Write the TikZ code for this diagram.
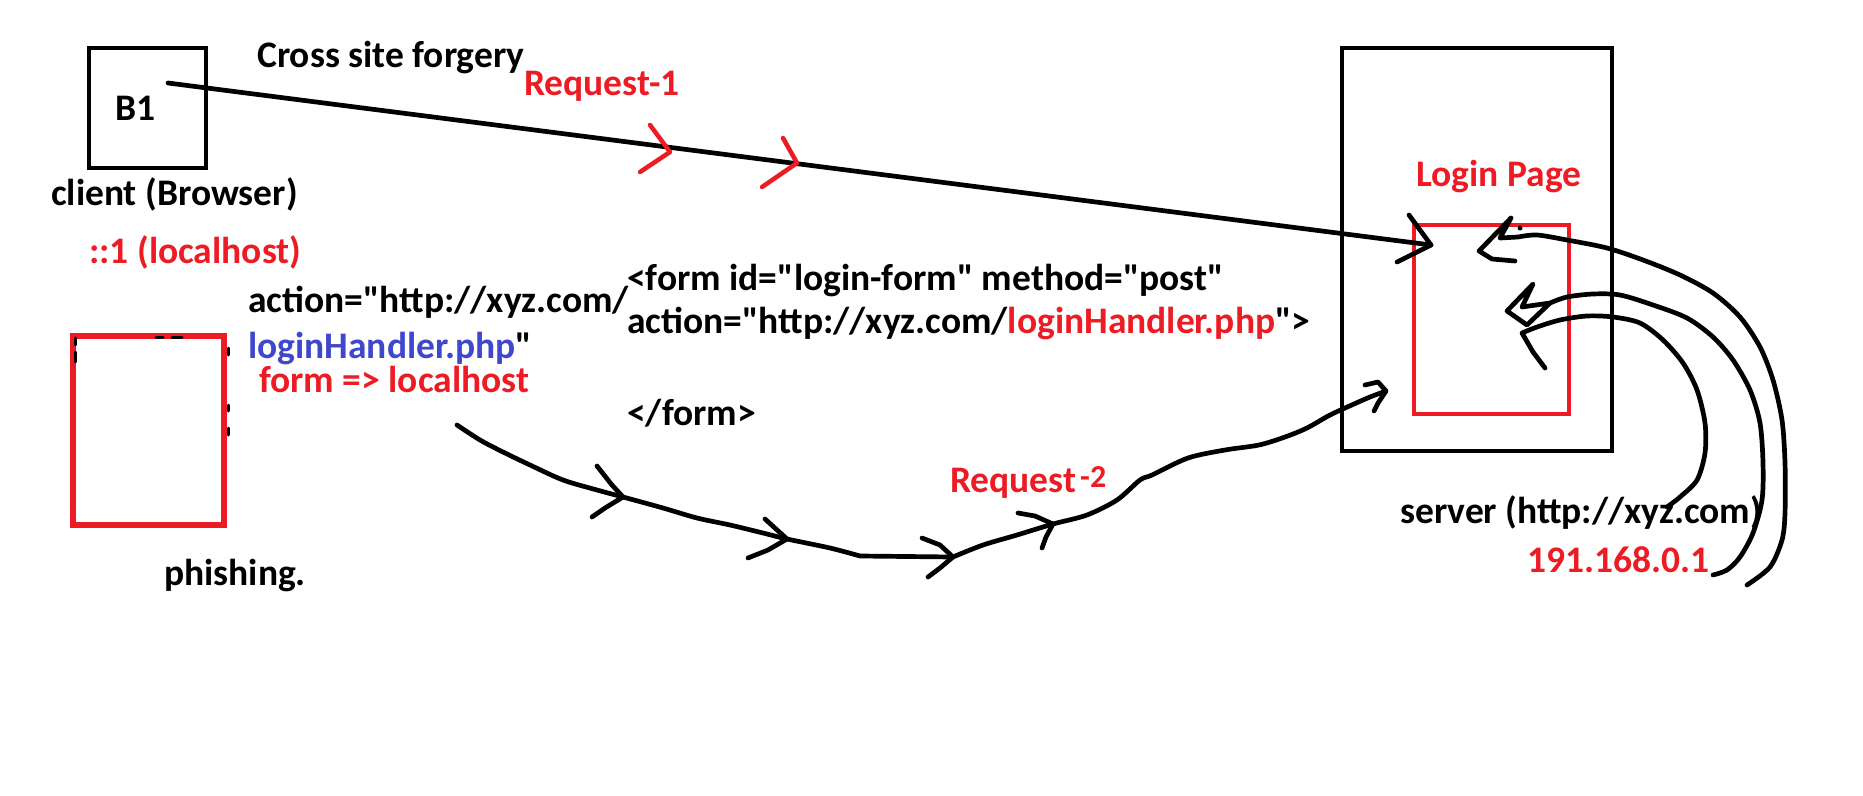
\documentclass[tikz,border=0pt]{standalone}
\usepackage{fontspec}
\setmainfont{Carlito}[Ligatures=TeXOff]
\definecolor{pred}{RGB}{237,28,36}
\definecolor{pblue}{RGB}{63,72,204}
\begin{document}
\begin{tikzpicture}[x=1pt,y=-1pt, line cap=round, line join=round,
  txt/.style={anchor=base west, inner sep=0pt, font=\bfseries\fontsize{37.5}{45}\selectfont},
  ink/.style={line width=4.7pt, draw=black},
  redink/.style={line width=4.5pt, draw=pred},
  box/.style={draw, inner sep=0pt, line cap=butt, line join=miter}]
\useasboundingbox (0,0) rectangle (1863,795);
\fill[white] (0,0) rectangle (1863,795);

% boxes
\node[box, line width=4.7pt, minimum width=117pt, minimum height=120pt] (b1box) at (147.5,108) {};
\node[box, draw=pred, line width=6pt, minimum width=151pt, minimum height=189pt] (phish) at (148.5,430.5) {};
\node[box, line width=4.7pt, minimum width=270pt, minimum height=403pt] (server) at (1477,249.5) {};
\node[box, draw=pred, line width=4.5pt, minimum width=155pt, minimum height=189pt] (login) at (1491.5,319.5) {};

% black remnants around phishing box
\draw[line width=3pt] (75,338)--(75,345) (75,352)--(75,362)
  (156,337)--(163,337) (172,337)--(182,337)
  (228,348)--(228,355) (228,405)--(228,411) (228,428)--(228,435);

% texts
\node[txt] (tB1) at (115,120) {B1};
\node[txt] (tcsf) at (257,67) {Cross site forgery};
\node[txt,text=pred] (treq1) at (524,95) {Request-1};
\node[txt] (tclient) at (51,205) {client (Browser)};
\node[txt,text=pred] (tlocal) at (89,263) {::1 (localhost)};
\node[txt] (tact1) at (248,312) {action="http://xyz.com/};
\node[txt] (tlh) at (248,358) {\textcolor{pblue}{loginHandler.php}"};
\node[txt,text=pred] (tfl) at (259,392) {form => localhost};
\node[txt] (tphish) at (164,585) {phishing.};
\node[txt] (tform1) at (627,290) {<form id="login-form" method="post"};
\node[txt] (tform2) at (627,333) {action="http://xyz.com/\textcolor{pred}{loginHandler.php}">};
\node[txt] (tform3) at (627,425) {</form>};
\node[txt,text=pred] (tlogin) at (1416,186) {Login Page};
\node[txt] (tserver) at (1400,523) {server (http://xyz.com)};
\node[txt,text=pred] (tipaddr) at (1527,572) {191.168.0.1};
\node[txt,text=pred] (treq2) at (950,492) {Request};
\node[txt,text=pred,font=\bfseries\fontsize{32}{38}\selectfont] (treq2b) at (1080,487) {-2};

% request 1 line
\coordinate (l1s) at (168,83);
\coordinate (l1e) at (1431,245);
\draw[ink] (l1s) -- (l1e);
\draw[ink] (1409,215) -- (l1e) -- (1397,262);
\draw[redink] (650,125) -- (670,152) -- (640,172);
\draw[redink] (783,138) -- (797,163) -- (762,187);

% request 2 curve
\draw[ink] plot[smooth] coordinates {(457,425) (480,440) (503,452) (530,465) (563,480) (597,490) (623,497) (663,508) (697,518) (730,525) (763,533) (787,539) (830,548) (860,556)}
  -- (953,557);
\draw[ink] plot[smooth] coordinates {(953,557) (983,545) (1017,535) (1053,524) (1087,515) (1117,500) (1140,480) (1152,475) (1188,458) (1225,450) (1259,445) (1285,437) (1307,428) (1330,415) (1354,404) (1370,397) (1386,391)};
\draw[ink] (597,466) -- (612,485) -- (623,497) -- (605,508) -- (592,517);
\draw[ink] (765,519) -- (787,539) -- (768,550) -- (748,558);
\draw[ink] (922,538) -- (940,545) -- (953,557) -- (940,568) -- (928,577);
\draw[ink] (1018,513) -- (1035,516) -- (1053,524) -- (1046,537) -- (1042,548);
\draw[ink] (1365,385) -- (1378,382) -- (1386,391) -- (1378,403) -- (1374,411);

% curves from the server side
\draw[ink] plot[smooth] coordinates {(1747,585) (1770,567) (1782,540) (1785,513) (1785,463) (1782,420) (1773,380) (1760,347) (1740,317) (1713,293) (1680,275) (1643,260) (1607,248) (1567,240) (1537,235) (1518,237)}
  -- (1500,238) -- (1511,218) -- (1479,251) -- (1492,259) -- (1515,261);
\fill (1520,228) circle (2.5pt);
\draw[ink] plot[smooth] coordinates {(1713,575) (1727,570) (1740,557) (1753,533) (1762,500) (1763,463) (1760,423) (1750,390) (1733,360) (1713,337) (1687,318) (1653,305) (1620,295) (1593,294) (1567,297) (1550,303)}
  -- (1522,307) -- (1533,284) -- (1507,311) -- (1527,325) -- (1550,303);
\draw[ink] plot[smooth] coordinates {(1667,507) (1680,497) (1697,480) (1705,453) (1705,423) (1697,390) (1683,363) (1663,340) (1640,323) (1613,317) (1587,316) (1560,320) (1537,327) (1522,333)}
  -- (1533,352) -- (1545,368);
\end{tikzpicture}
\end{document}
